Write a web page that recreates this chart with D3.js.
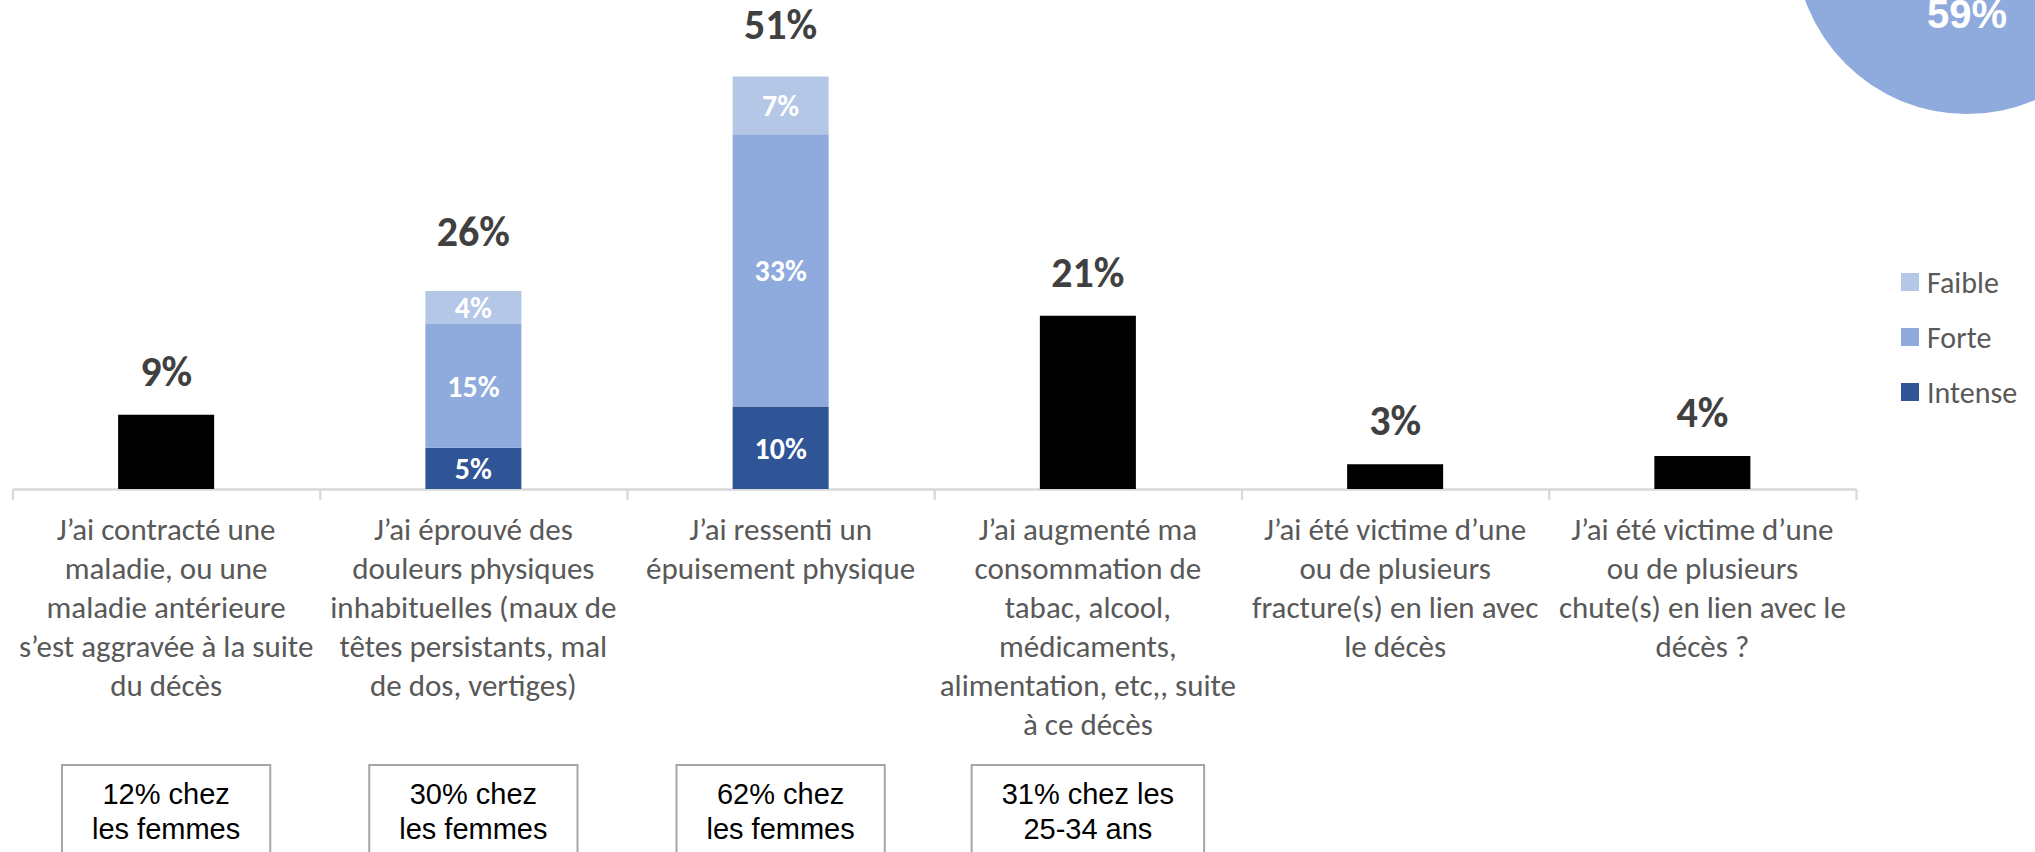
<!DOCTYPE html>
<html>
<head>
<meta charset="utf-8">
<script src="https://cdn.jsdelivr.net/npm/d3@7"></script>
<style>
  body { margin: 0; background: #fff; }
  svg { display: block; }
</style>
</head>
<body>
<script>
// categories, each as the lines shown under the axis
var categories = [
    ["J’ai contracté une", "maladie, ou une", "maladie antérieure", "s’est aggravée à la suite", "du décès"],
    ["J’ai éprouvé des", "douleurs physiques", "inhabituelles (maux de", "têtes persistants, mal", "de dos, vertiges)"],
    ["J’ai ressenti un", "épuisement physique"],
    ["J’ai augmenté ma", "consommation de", "tabac, alcool,", "médicaments,", "alimentation, etc,, suite", "à ce décès"],
    ["J’ai été victime d’une", "ou de plusieurs", "fracture(s) en lien avec", "le décès"],
    ["J’ai été victime d’une", "ou de plusieurs", "chute(s) en lien avec le", "décès ?"]
];

var seriesNames = ["Faible", "Forte", "Intense"];
var intense = [0, 5, 10, 0, 0, 0];
var forte   = [0, 15, 33, 0, 0, 0];
var faible  = [0, 4, 7, 0, 0, 0];
var single  = [9, 0, 0, 21, 3, 4];
var totals  = [9, 26, 51, 21, 3, 4];

var notes = [
    ["12% chez", "les femmes"],
    ["30% chez", "les femmes"],
    ["62% chez", "les femmes"],
    ["31% chez les", "25-34 ans"]
];

var bubbleValue = 59;

var W = 2035, H = 852;
var colors = { Faible: "#b4c7e7", Forte: "#8faadc", Intense: "#2f5597" };
var labelFont = "Calibri, Carlito, Lato, sans-serif";

var svg = d3.select("body")
    .append("svg")
    .attr("width", W)
    .attr("height", H)
    .style("overflow", "hidden");

var idx = d3.range(categories.length);

var x = d3.scaleBand()
    .domain(idx)
    .range([12.5, 1856])
    .padding(0);

var edges = d3.scaleLinear()
    .domain([0, categories.length])
    .range([12.5, 1856]);

var y = d3.scaleLinear()
    .domain([0, 60])
    .range([489, 489 - 8.25 * 60]);

var barW = x.bandwidth() * 0.3125;
function cx(i) { return x(i) + x.bandwidth() / 2; }

// axis with ticks between categories
var axis = svg.append("g")
    .attr("transform", "translate(0," + y(0) + ")")
    .call(d3.axisBottom(edges)
        .ticks(categories.length)
        .tickSize(11)
        .tickSizeOuter(0)
        .tickFormat(""));
axis.selectAll("path, line")
    .attr("stroke", "#d9d9d9")
    .attr("stroke-width", 2.3);

// stacked bars
var rows = idx.map(function(i) {
    return { i: i, Intense: intense[i], Forte: forte[i], Faible: faible[i] };
});
var stack = d3.stack().keys(["Intense", "Forte", "Faible"])(rows);

stack.forEach(function(layer) {
    var g = svg.append("g");
    var segs = layer.filter(function(d) { return d[1] - d[0] > 0; });
    g.selectAll("rect")
        .data(segs)
        .enter().append("rect")
        .attr("x", function(d) { return cx(d.data.i) - barW / 2; })
        .attr("y", function(d) { return y(d[1]); })
        .attr("width", barW)
        .attr("height", function(d) { return y(d[0]) - y(d[1]); })
        .attr("fill", colors[layer.key]);
    g.selectAll("text")
        .data(segs)
        .enter().append("text")
        .attr("x", function(d) { return cx(d.data.i); })
        .attr("y", function(d) { return (y(d[0]) + y(d[1])) / 2; })
        .attr("dy", "0.36em")
        .attr("text-anchor", "middle")
        .attr("fill", "#fff")
        .style("font-family", labelFont)
        .style("font-weight", "bold")
        .style("font-size", "30px")
        .text(function(d) { return (d[1] - d[0]) + "%"; });
});

// single black bars
svg.append("g").selectAll("rect")
    .data(idx.filter(function(i) { return single[i] > 0; }))
    .enter().append("rect")
    .attr("x", function(i) { return cx(i) - barW / 2; })
    .attr("y", function(i) { return y(single[i]); })
    .attr("width", barW)
    .attr("height", function(i) { return y(0) - y(single[i]); })
    .attr("fill", "#000");

// total labels
svg.append("g").selectAll("text")
    .data(idx)
    .enter().append("text")
    .attr("x", cx)
    .attr("y", function(i) { return y(totals[i]) - 29; })
    .attr("text-anchor", "middle")
    .attr("fill", "#404040")
    .style("font-family", labelFont)
    .style("font-weight", "bold")
    .style("font-size", "42px")
    .text(function(i) { return totals[i] + "%"; });

// category labels
var cat = svg.append("g").selectAll("text")
    .data(idx)
    .enter().append("text")
    .attr("text-anchor", "middle")
    .attr("fill", "#595959")
    .style("font-family", labelFont)
    .style("font-size", "31px");
cat.each(function(i) {
    var t = d3.select(this);
    categories[i].forEach(function(line, k) {
        t.append("tspan")
            .attr("x", cx(i))
            .attr("y", 540 + k * 39)
            .text(line);
    });
});

// note boxes
notes.forEach(function(lines, i) {
    var g = svg.append("g");
    var rect = g.append("rect");
    var t = g.append("text")
        .attr("text-anchor", "middle")
        .attr("fill", "#000")
        .style("font-family", "Arial, 'Liberation Sans', sans-serif")
        .style("font-size", "29px");
    lines.forEach(function(line, k) {
        t.append("tspan")
            .attr("x", cx(i))
            .attr("y", 804 + k * 35)
            .text(line);
    });
    var bw = t.node().getBBox().width + 60;
    rect.attr("x", cx(i) - bw / 2)
        .attr("y", 765)
        .attr("width", bw)
        .attr("height", 130)
        .attr("fill", "#fff")
        .attr("stroke", "#a6a6a6")
        .attr("stroke-width", 2);
});

// legend
var legend = svg.append("g")
    .attr("transform", "translate(1901,273)");
var li = legend.selectAll("g")
    .data(seriesNames)
    .enter().append("g")
    .attr("transform", function(d, k) { return "translate(0," + k * 55 + ")"; });
li.append("rect")
    .attr("width", 18)
    .attr("height", 18)
    .attr("fill", function(d) { return colors[d]; });
li.append("text")
    .attr("x", 26)
    .attr("y", 9)
    .attr("dy", "0.36em")
    .attr("fill", "#595959")
    .style("font-family", labelFont)
    .style("font-size", "30px")
    .text(function(d) { return d; });

// bubble in the corner
svg.append("circle")
    .attr("cx", 1967)
    .attr("cy", -58)
    .attr("r", 172)
    .attr("fill", colors.Forte);
svg.append("text")
    .attr("x", 1967)
    .attr("y", 28)
    .attr("text-anchor", "middle")
    .attr("fill", "#fff")
    .style("font-family", "Arial, 'Liberation Sans', sans-serif")
    .style("font-weight", "bold")
    .style("font-size", "40px")
    .text(bubbleValue + "%");
</script>
</body>
</html>
